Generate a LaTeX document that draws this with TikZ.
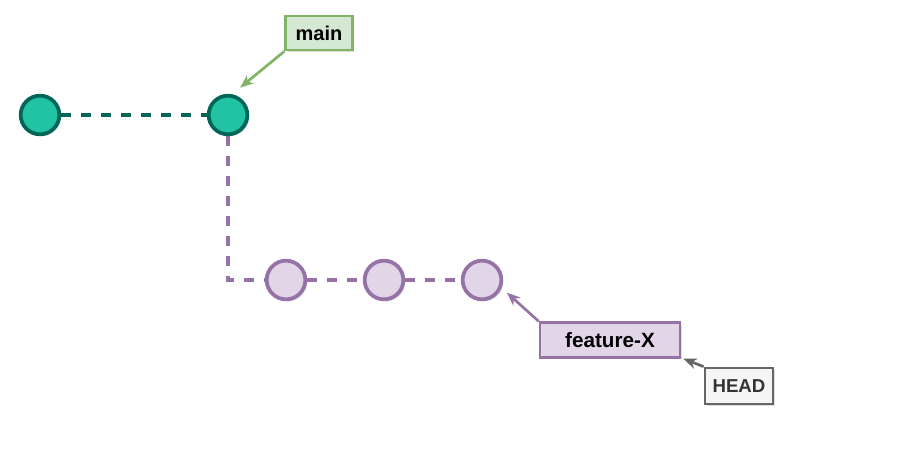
\documentclass[tikz,border=0pt]{standalone}
\usepackage{fontspec}
\setmainfont{Liberation Sans}
\usetikzlibrary{arrows.meta,shadows,backgrounds}
\definecolor{gfill}{HTML}{21C3A4}
\definecolor{gline}{HTML}{006658}
\definecolor{pfill}{HTML}{E1D5E7}
\definecolor{pline}{HTML}{9673A6}
\definecolor{mfill}{HTML}{D5E8D4}
\definecolor{mline}{HTML}{82B366}
\definecolor{hfill}{HTML}{F5F5F5}
\definecolor{hline}{HTML}{666666}
\definecolor{htext}{HTML}{333333}
\tikzset{
  px/.style={x=0.75pt,y=-0.75pt},
  shad/.style={drop shadow={shadow xshift=1.5pt,shadow yshift=-1.5pt,opacity=0.22,fill=black!60}},
  gcommit/.style={circle,draw=gline,fill=gfill,line width=2.8pt,minimum size=29pt,inner sep=0pt,shad},
  pcommit/.style={circle,draw=pline,fill=pfill,line width=2.8pt,minimum size=29pt,inner sep=0pt,shad},
  label box/.style={rectangle,line width=2pt,inner sep=0pt,shad},
  gdash/.style={draw=gline,line width=3pt,dash pattern=on 7.5pt off 7.5pt},
  pdash/.style={draw=pline,line width=3pt,dash pattern=on 7.5pt off 7.5pt},
  ptr/.style={line width=2pt,-{Stealth[length=10pt,width=8pt,inset=3pt]}},
}
\begin{document}
\begin{tikzpicture}[px]
\useasboundingbox (0,0) rectangle (900,450);
\node[gcommit] (c1) at (40,115) {};
\node[gcommit] (c2) at (228,115) {};
\node[pcommit] (c3) at (286,280) {};
\node[pcommit] (c4) at (384,280) {};
\node[pcommit] (c5) at (482,280) {};
\node[label box,draw=mline,fill=mfill,minimum width=50pt,minimum height=25.5pt,font=\bfseries\fontsize{15}{17}\selectfont] (main) at (319,33) {main};
\node[label box,draw=pline,fill=pfill,minimum width=105pt,minimum height=26pt,font=\bfseries\fontsize{15.5}{17}\selectfont] (feat) at (610,340) {feature-X};
\node[label box,draw=hline,fill=hfill,text=htext,minimum width=51pt,minimum height=27pt,font=\bfseries\fontsize{14}{16}\selectfont] (head) at (739,386) {HEAD};
\begin{scope}[on background layer]
\path[gdash] (c1) -- (c2);
\path[pdash] (c2.south) |- (c3.west);
\path[pdash] (c3) -- (c4);
\path[pdash] (c4) -- (c5);
\end{scope}
\draw[ptr,draw=mline] (main.south west) -- ([shift={(3.5,-8)}]c2.66);
\draw[ptr,draw=pline] (feat.north west) -- ([shift={(6,3)}]c5.-27);
\draw[ptr,draw=hline] (head.north west) -- ([shift={(2,0)}]feat.south east);
\end{tikzpicture}
\end{document}
